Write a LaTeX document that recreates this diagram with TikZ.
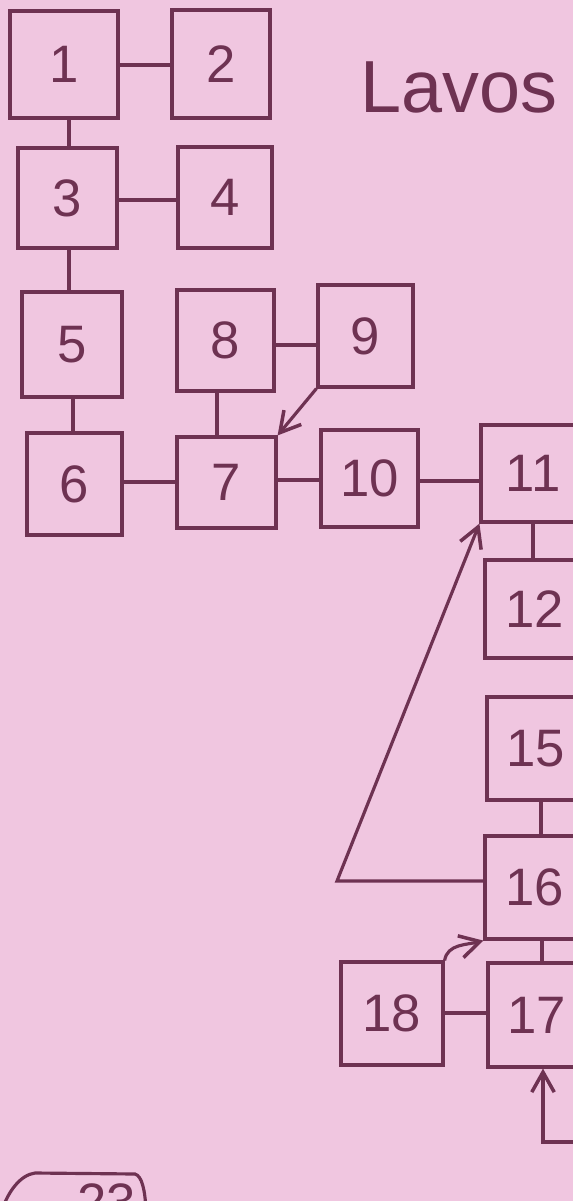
\documentclass[tikz,border=0pt]{standalone}
\usepackage{fontspec}
\setmainfont{Liberation Sans}
\usetikzlibrary{arrows.meta}
\definecolor{bg}{RGB}{240,198,224}
\definecolor{ink}{RGB}{110,50,82}
\newcommand\mybox[6]{\node[box, minimum width={(#4-#2)*0.02cm}, minimum height={(#5-#3)*0.02cm}] (#1) at ({(#2+#4)/2},{(#3+#5)/2}) {#6};}
\begin{document}
\begin{tikzpicture}[x=0.02cm,y=-0.02cm,
  box/.style={draw=ink, line width=1.8pt, inner sep=0pt, text=ink, font=\fontsize{30}{30}\selectfont},
  conn/.style={draw=ink, line width=1.8pt},
  arr/.style={conn, -{Straight Barb[length=0.4cm,width=0.45cm,line width=2pt]}},
  title/.style={text=ink, font=\fontsize{42}{42}\selectfont, inner sep=0pt, anchor=base west}]
\useasboundingbox (0,0) rectangle (573,1201);
\fill[bg] (0,0) rectangle (573,1201);
\clip (0,0) rectangle (573,1201);
\mybox{b1}{10}{11}{118}{118}{1}
\mybox{b2}{172}{10}{270}{118}{2}
\mybox{b3}{18}{148}{117}{248}{3}
\mybox{b4}{178}{147}{272}{248}{4}
\mybox{b5}{22}{292}{122}{397}{5}
\mybox{b6}{27}{433}{122}{535}{6}
\mybox{b8}{177}{290}{274}{391}{8}
\mybox{b9}{318}{285}{413}{387}{9}
\mybox{b7}{177}{437}{276}{528}{7}
\mybox{b10}{321}{430}{418}{527}{10}
\mybox{b11}{481}{425}{585}{522}{11}
\mybox{b12}{485}{560}{585}{658}{12}
\mybox{b15}{487}{697}{585}{800}{15}
\mybox{b16}{485}{836}{585}{939}{16}
\mybox{b17}{488}{963}{585}{1067}{17}
\mybox{b18}{341}{962}{443}{1065}{18}
\node[title] (ttl) at (360,112) {Lavos};
% connectors
\draw[conn] (b1.east |- 0,65) -- (b2.west |- 0,65);
\draw[conn] (b1.south -| 69,0) -- (b3.north -| 69,0);
\draw[conn] (b3.east |- 0,200) -- (b4.west |- 0,200);
\draw[conn] (b3.south -| 69,0) -- (b5.north -| 69,0);
\draw[conn] (b5.south -| 73,0) -- (b6.north -| 73,0);
\draw[conn] (b8.east |- 0,345) -- (b9.west |- 0,345);
\draw[conn] (b8.south -| 217,0) -- (b7.north -| 217,0);
\draw[arr] (b9.south west) -- (b7.north east);
\draw[conn] (b6.east |- 0,482) -- (b7.west |- 0,482);
\draw[conn] (b7.east |- 0,480) -- (b10.west |- 0,480);
\draw[conn] (b10.east |- 0,481) -- (b11.west |- 0,481);
\draw[conn] (b11.south -| 533,0) -- (b12.north -| 533,0);
\draw[conn] (b15.south -| 541,0) -- (b16.north -| 541,0);
\draw[conn] (b16.south -| 542,0) -- (b17.north -| 542,0);
\draw[conn] (b18.east |- 0,1013) -- (b17.west |- 0,1013);
\coordinate (loopL) at (337,881);
\draw[arr] (b16.west |- loopL) -- (loopL) -- (b11.south west);
\draw[arr] (b18.north east) to[out=80,in=195] (b16.south west);
\coordinate (c17) at (543,1142);
\coordinate (c17r) at (590,1142);
\draw[arr] (c17r) -- (c17) -- (c17 |- b17.south);
% partial label at bottom left
\draw[conn] (2,1210) .. controls (8,1192) and (20,1175) .. (35,1173) -- (135,1174) .. controls (142,1176) and (145,1190) .. (146,1210);
\node[text=ink, font=\fontsize{30}{30}\selectfont, inner sep=0pt, anchor=north] (p23) at (107,1183) {23};
\end{tikzpicture}
\end{document}
